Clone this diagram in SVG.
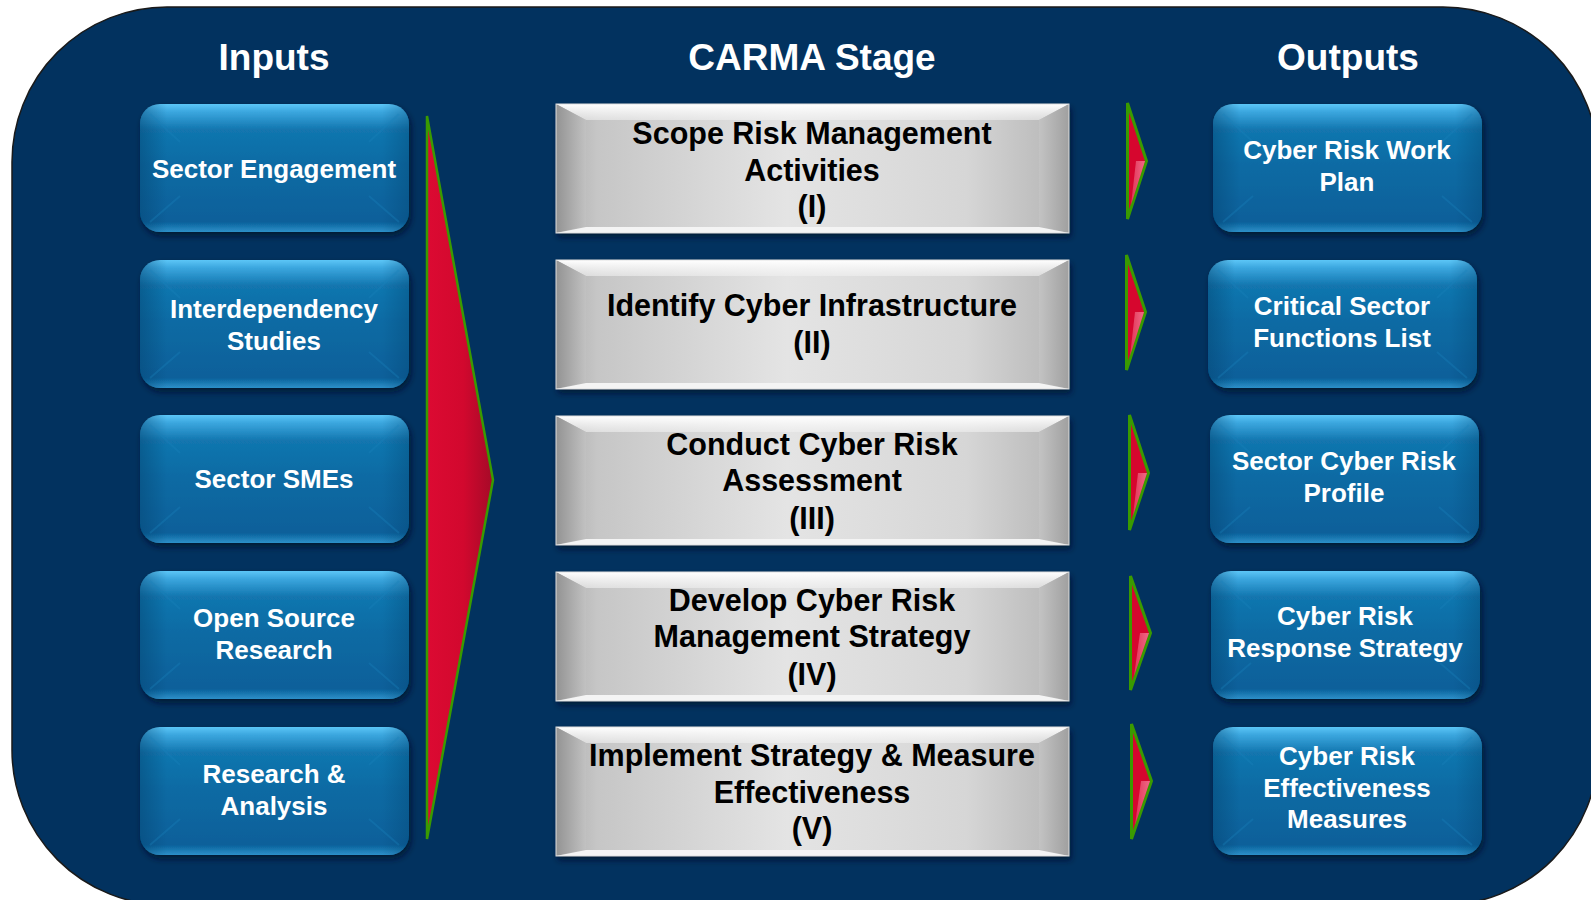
<svg xmlns="http://www.w3.org/2000/svg" xmlns:xlink="http://www.w3.org/1999/xlink" width="1591" height="900" viewBox="0 0 1591 900">
<style>
  text { font-family: "Liberation Sans", Arial, sans-serif; font-weight: bold; text-anchor: middle; }
  .title { fill: #ffffff; font-size: 37px; }
  .tw { fill: #ffffff; font-size: 26px; }
  .tb { fill: #000000; font-size: 30.5px; }
  .bigArrow { fill: url(#gRedBig); stroke: #3a9a00; stroke-width: 2.5; stroke-linejoin: miter; }
  .smallArrow { fill: #d6062e; stroke: #3a9a00; stroke-width: 3; stroke-linejoin: miter; }
  .hl { fill: url(#gPink); }
</style>
<defs>
  <linearGradient id="gBlue" x1="0" y1="0" x2="0" y2="1">
    <stop offset="0" stop-color="#5cc6f7"/>
    <stop offset="0.06" stop-color="#3ba7df"/>
    <stop offset="0.2" stop-color="#1276af"/>
    <stop offset="0.5" stop-color="#0a6aa3"/>
    <stop offset="0.92" stop-color="#07609a"/>
    <stop offset="1" stop-color="#2e90c9"/>
  </linearGradient>
  <linearGradient id="gBlueSide" x1="0" y1="0" x2="1" y2="0">
    <stop offset="0" stop-color="#03426e" stop-opacity="0.45"/>
    <stop offset="0.1" stop-color="#03426e" stop-opacity="0"/>
    <stop offset="0.9" stop-color="#03426e" stop-opacity="0"/>
    <stop offset="1" stop-color="#03426e" stop-opacity="0.35"/>
  </linearGradient>
  <linearGradient id="gGrey" x1="0" y1="0" x2="1" y2="0">
    <stop offset="0" stop-color="#a9a9a9"/>
    <stop offset="0.08" stop-color="#c6c6c6"/>
    <stop offset="0.45" stop-color="#e4e4e4"/>
    <stop offset="0.8" stop-color="#d6d6d6"/>
    <stop offset="1" stop-color="#b4b4b4"/>
  </linearGradient>
  <linearGradient id="gGreyTop" x1="0" y1="0" x2="0" y2="1">
    <stop offset="0" stop-color="#ffffff"/>
    <stop offset="1" stop-color="#f0f0f0" stop-opacity="0.6"/>
  </linearGradient>
  <linearGradient id="gGreyLeft" x1="0" y1="0" x2="1" y2="0">
    <stop offset="0" stop-color="#8f8f8f"/>
    <stop offset="1" stop-color="#c2c2c2"/>
  </linearGradient>
  <linearGradient id="gGreyRight" x1="0" y1="0" x2="1" y2="0">
    <stop offset="0" stop-color="#c4c4c4"/>
    <stop offset="1" stop-color="#9c9c9c"/>
  </linearGradient>
  <linearGradient id="gRedBig" x1="0" y1="0" x2="1" y2="0">
    <stop offset="0" stop-color="#dc0a32"/>
    <stop offset="0.55" stop-color="#d2082e"/>
    <stop offset="1" stop-color="#a50a28"/>
  </linearGradient>
  <linearGradient id="gPink" x1="0" y1="0" x2="1" y2="0">
    <stop offset="0" stop-color="#e23458"/>
    <stop offset="1" stop-color="#f06a86"/>
  </linearGradient>
  <filter id="shadow" x="-10%" y="-10%" width="120%" height="130%">
    <feDropShadow dx="2" dy="4" stdDeviation="3" flood-color="#001528" flood-opacity="0.75"/>
  </filter>
  <symbol id="blueBox" overflow="visible">
    <rect x="0" y="0" width="269" height="128" rx="20" ry="20" fill="url(#gBlue)" filter="url(#shadow)"/>
    <rect x="0" y="0" width="269" height="128" rx="20" ry="20" fill="url(#gBlueSide)"/>
    <path d="M10 10 L40 38 M259 10 L229 38 M10 118 L40 92 M259 118 L229 92" stroke="#1a80ba" stroke-opacity="0.35" stroke-width="2" fill="none"/>
  </symbol>
  <symbol id="greyBox" overflow="visible">
    <rect x="0" y="0" width="513" height="129" fill="url(#gGrey)" filter="url(#shadow)"/>
    <polygon points="0,0 513,0 483,16 30,16" fill="url(#gGreyTop)"/>
    <polygon points="0,0 30,16 30,122 0,129" fill="url(#gGreyLeft)" opacity="0.85"/>
    <polygon points="513,0 513,129 483,122 483,16" fill="url(#gGreyRight)" opacity="0.85"/>
    <polygon points="0,129 513,129 483,123 30,123" fill="#f4f4f4"/>
    <rect x="0" y="0" width="513" height="129" fill="none" stroke="#e0e0e0" stroke-width="1"/>
  </symbol>
</defs>

<g id="background">
  <rect x="12" y="7" width="1586" height="898" rx="155" ry="155" fill="#02325f" stroke="#1a1a1a" stroke-width="1.5"/>
</g>

<g id="titles">
  <text class="title" x="274" y="70">Inputs</text>
  <text class="title" x="812" y="70">CARMA Stage</text>
  <text class="title" x="1348" y="70">Outputs</text>
</g>

<g id="connectors">
  <polygon class="bigArrow" points="427,116 493,480 427,839"/>
  <g id="arrow1">
    <polygon class="smallArrow" points="1127.5,103 1146.5,161 1127.5,219"/>
    <polygon class="hl" points="1145,161 1136,161 1131,205"/>
  </g>
  <g id="arrow2">
    <polygon class="smallArrow" points="1126.5,255 1145.5,312 1126.5,370"/>
    <polygon class="hl" points="1144,312 1135,312 1130,356"/>
  </g>
  <g id="arrow3">
    <polygon class="smallArrow" points="1129.5,415 1148.5,473 1129.5,530"/>
    <polygon class="hl" points="1147,473 1138,473 1133,516"/>
  </g>
  <g id="arrow4">
    <polygon class="smallArrow" points="1130.5,576 1150.5,633 1130.5,690"/>
    <polygon class="hl" points="1149,633 1140,633 1134,676"/>
  </g>
  <g id="arrow5">
    <polygon class="smallArrow" points="1131.5,724 1151.5,781 1131.5,839"/>
    <polygon class="hl" points="1150,781 1141,781 1135,825"/>
  </g>
</g>

<g id="input1">
  <use xlink:href="#blueBox" x="140" y="104"/>
  <text class="tw" x="274" y="178">Sector Engagement</text>
</g>
<g id="input2">
  <use xlink:href="#blueBox" x="140" y="260"/>
  <text class="tw" x="274" y="318">Interdependency</text>
  <text class="tw" x="274" y="350">Studies</text>
</g>
<g id="input3">
  <use xlink:href="#blueBox" x="140" y="415"/>
  <text class="tw" x="274" y="488">Sector SMEs</text>
</g>
<g id="input4">
  <use xlink:href="#blueBox" x="140" y="571"/>
  <text class="tw" x="274" y="627">Open Source</text>
  <text class="tw" x="274" y="659">Research</text>
</g>
<g id="input5">
  <use xlink:href="#blueBox" x="140" y="727"/>
  <text class="tw" x="274" y="783">Research &amp;</text>
  <text class="tw" x="274" y="815">Analysis</text>
</g>

<g id="stage1">
  <use xlink:href="#greyBox" x="556" y="104"/>
  <text class="tb" x="812" y="144">Scope Risk Management</text>
  <text class="tb" x="812" y="180.5">Activities</text>
  <text class="tb" x="812" y="217">(I)</text>
</g>
<g id="stage2">
  <use xlink:href="#greyBox" x="556" y="260"/>
  <text class="tb" x="812" y="315.5">Identify Cyber Infrastructure</text>
  <text class="tb" x="812" y="353">(II)</text>
</g>
<g id="stage3">
  <use xlink:href="#greyBox" x="556" y="416"/>
  <text class="tb" x="812" y="454.5">Conduct Cyber Risk</text>
  <text class="tb" x="812" y="491">Assessment</text>
  <text class="tb" x="812" y="528.5">(III)</text>
</g>
<g id="stage4">
  <use xlink:href="#greyBox" x="556" y="572"/>
  <text class="tb" x="812" y="610.5">Develop Cyber Risk</text>
  <text class="tb" x="812" y="647">Management Strategy</text>
  <text class="tb" x="812" y="685">(IV)</text>
</g>
<g id="stage5">
  <use xlink:href="#greyBox" x="556" y="727"/>
  <text class="tb" x="812" y="766">Implement Strategy &amp; Measure</text>
  <text class="tb" x="812" y="802.5">Effectiveness</text>
  <text class="tb" x="812" y="839">(V)</text>
</g>

<g id="output1">
  <use xlink:href="#blueBox" x="1213" y="104"/>
  <text class="tw" x="1347" y="159">Cyber Risk Work</text>
  <text class="tw" x="1347" y="191">Plan</text>
</g>
<g id="output2">
  <use xlink:href="#blueBox" x="1208" y="260"/>
  <text class="tw" x="1342" y="315">Critical Sector</text>
  <text class="tw" x="1342" y="347">Functions List</text>
</g>
<g id="output3">
  <use xlink:href="#blueBox" x="1210" y="415"/>
  <text class="tw" x="1344" y="470">Sector Cyber Risk</text>
  <text class="tw" x="1344" y="502">Profile</text>
</g>
<g id="output4">
  <use xlink:href="#blueBox" x="1211" y="571"/>
  <text class="tw" x="1345" y="625">Cyber Risk</text>
  <text class="tw" x="1345" y="657">Response Strategy</text>
</g>
<g id="output5">
  <use xlink:href="#blueBox" x="1213" y="727"/>
  <text class="tw" x="1347" y="765">Cyber Risk</text>
  <text class="tw" x="1347" y="797">Effectiveness</text>
  <text class="tw" x="1347" y="828">Measures</text>
</g>
</svg>
